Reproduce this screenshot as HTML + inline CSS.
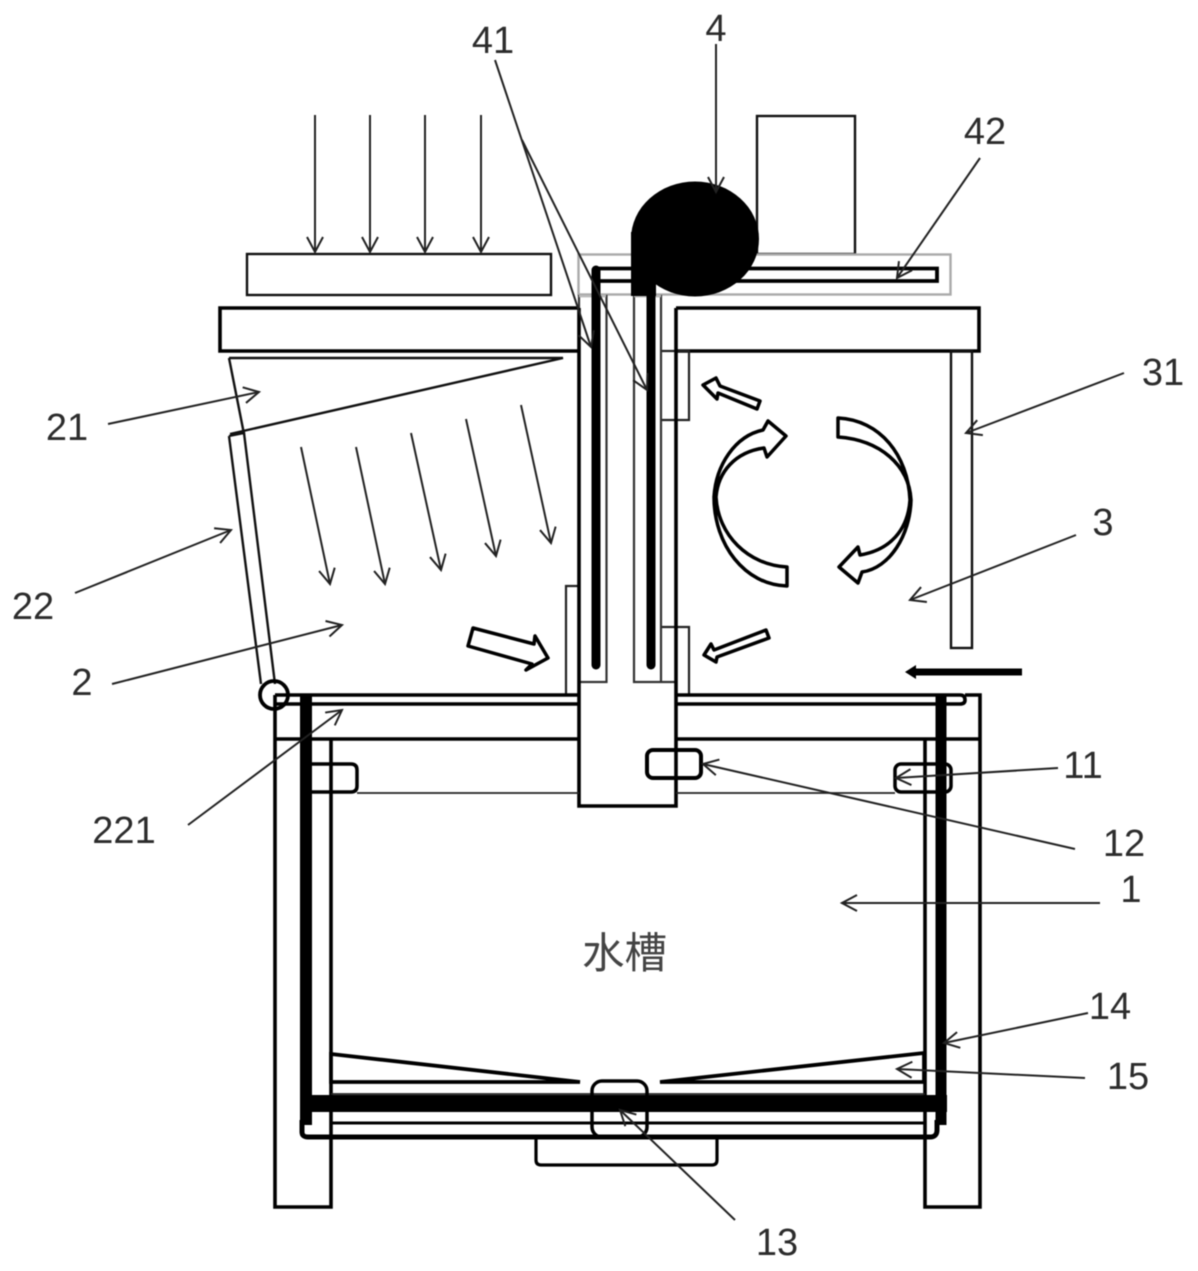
<!DOCTYPE html>
<html>
<head>
<meta charset="utf-8">
<style>
html,body{margin:0;padding:0;background:#fff}
svg{display:block;filter:blur(0.5px)}
text{font-family:"Liberation Sans","Noto Sans CJK SC",sans-serif;fill:#2c2c2c}
.n{font-size:38px;text-anchor:middle}
.k{stroke:#000;fill:none;stroke-width:3.6}
.t{stroke:#111;fill:none;stroke-width:2.4}
.g{stroke:#222;fill:none;stroke-width:2.2}
.a{stroke:#222;fill:none;stroke-width:2}
.b{stroke:#000;fill:#fff;stroke-width:3.5;stroke-linejoin:round}
</style>
</head>
<body>
<svg width="1198" height="1271" viewBox="0 0 1198 1271" xmlns="http://www.w3.org/2000/svg">
<defs>
<marker id="v" viewBox="0 0 20 20" refX="18" refY="10" markerWidth="20" markerHeight="20" markerUnits="userSpaceOnUse" orient="auto">
<path d="M3 2 L18 10 L3 18" fill="none" stroke="#222" stroke-width="2"/>
</marker>
</defs>
<rect width="1198" height="1271" fill="#fff"/>

<!-- top plate and table -->
<rect x="247" y="254" width="304" height="41" class="t"/>
<path class="k" d="M579,308 H220 V351 H579"/>
<path class="k" d="M676,308 H979 V351 H676"/>

<!-- motor box and pipe -->
<rect x="757" y="116" width="98" height="138" class="t"/>
<rect x="578.500" y="254.500" width="372" height="40" fill="none" stroke="#aaa" stroke-width="2.400"/>
<path d="M597,268.500 H937 V281 H597" fill="none" stroke="#000" stroke-width="3.800"/>

<!-- right side panel -->
<rect x="951" y="351" width="21" height="297" class="t"/>

<!-- wedge and hinged plate -->
<path class="t" d="M229,358 H563 L230,434"/>
<path class="t" d="M229,358 L244,434"/>
<path class="t" d="M229,436 L244,433 L275,684 M229,436 L261,684"/>

<!-- side baffles -->
<path class="g" d="M579,586 H566 V695"/>
<path class="g" d="M661,627 H689 V695"/>
<path class="g" d="M661,351 H689 V420 H661"/>

<!-- centre column -->
<rect x="579" y="296" width="27.500" height="386" fill="none" stroke="#333" stroke-width="2.200"/>
<path d="M634,296 V682 H676" fill="none" stroke="#333" stroke-width="2.200"/>
<path d="M634,296 H661 V682" fill="none" stroke="#333" stroke-width="2.200"/>
<path d="M579,296 H606 M634,296 H661" fill="none" stroke="#bbb" stroke-width="2.400"/>
<path class="k" d="M579,308 V806 H676 V308" stroke-width="3.800"/>

<!-- vertical black pipes -->
<path d="M596,270 V665" stroke="#000" stroke-width="9" stroke-linecap="round" fill="none"/>
<path d="M651,290 V665" stroke="#000" stroke-width="9" stroke-linecap="round" fill="none"/>

<!-- fan -->
<ellipse cx="695" cy="239" rx="64" ry="57.500" fill="#000"/>
<rect x="631" y="232" width="25" height="64" fill="#000"/>

<!-- legs -->
<path class="k" d="M275,695 V1207 H331 V739"/>
<path class="k" d="M925,739 V1207 H980 V695 H965"/>

<!-- top double rail -->
<path class="k" d="M275,695 H579 M275,704 H579" stroke-width="3.800"/>
<path d="M675,695 H960 Q965,695 965,700 Q965,704 960,704 H675" fill="none" stroke="#000" stroke-width="3.600"/>
<path class="k" d="M275,739 H579 M676,739 H980"/>

<!-- tank thin lines -->
<path d="M357,793 H579 M676,793 H895" stroke="#222" stroke-width="1.800" fill="none"/>
<path d="M306,764 H351 Q357,764 357,770 V786 Q357,792 351,792 H306" fill="none" stroke="#000" stroke-width="3.500"/>
<rect x="647" y="750" width="54" height="28" rx="6" fill="none" stroke="#000" stroke-width="4"/>
<rect x="895" y="764" width="56" height="28" rx="6" fill="none" stroke="#000" stroke-width="3.500"/>

<!-- hinge -->
<circle cx="274" cy="695" r="14" fill="none" stroke="#000" stroke-width="3.800"/>

<!-- bottom assembly -->
<path d="M331,1054 L580,1082 L331,1082 Z" fill="#fff" stroke="#000" stroke-width="3.800"/>
<path d="M924,1053 L660,1082 H924 Z" fill="#fff" stroke="#000" stroke-width="3.800"/>
<path d="M331,1094 H925" stroke="#222" stroke-width="1.800" fill="none"/>
<path d="M331,1123 H925" stroke="#000" stroke-width="3" fill="none"/>
<path d="M536,1138 V1160 Q536,1165 541,1165 H712 Q717,1165 717,1160 V1138" fill="none" stroke="#000" stroke-width="3.200"/>
<path d="M302,1120 V1132 Q302,1137 308,1137 H930 Q937,1137 937,1130 V1120" fill="none" stroke="#000" stroke-width="5"/>
<rect x="592" y="1081" width="55" height="56" rx="10" fill="none" stroke="#000" stroke-width="3.500"/>
<path d="M300,1095 H947 V1112 H300 Z" fill="#000"/>
<path d="M306,694 V1125" stroke="#000" stroke-width="12" fill="none"/>
<path d="M941,695 V1125" stroke="#000" stroke-width="11" fill="none"/>

<!-- black arrow -->
<path d="M1022,672 H916" stroke="#000" stroke-width="7" fill="none"/>
<path d="M905,672 L916,665 V679 Z" fill="#000"/>

<!-- block arrows -->
<path class="b" d="M473,628 L468,646 L532,664 L526,670 L548,658 L535,636 L534,644 Z"/>
<path class="b" d="M760,401 L757,409 L718,393 L717,399 L703,385 L716,378 L720,386 Z"/>
<path class="b" d="M766,630 L769,638 L717,657 L716,662 L704,655 L711,644 L714,650 Z"/>

<!-- circular arrows -->
<path class="b" d="M787,567 C748,565 718,535 716,497 C718,472 735,452 764,448 L767,457 L786,436 L768,421 L763,430 C735,436 716,465 714,497 C714,545 745,585 787,586 Z"/>
<path class="b" d="M838,418 C880,420 908,455 910,500 C908,530 890,550 860,555 L858,547 L839,567 L858,583 L862,572 C890,568 910,535 911,500 C909,465 880,440 838,437 Z"/>

<!-- down arrows -->
<g class="a">
<path marker-end="url(#v)" d="M315,115 V252"/>
<path marker-end="url(#v)" d="M370,115 V252"/>
<path marker-end="url(#v)" d="M425,115 V252"/>
<path marker-end="url(#v)" d="M481,115 V252"/>
<path marker-end="url(#v)" d="M301,447 L330,584"/>
<path marker-end="url(#v)" d="M356,447 L385,584"/>
<path marker-end="url(#v)" d="M411,433 L441,570"/>
<path marker-end="url(#v)" d="M466,419 L496,556"/>
<path marker-end="url(#v)" d="M521,405 L551,543"/>
</g>

<!-- leaders -->
<g class="a">
<path marker-end="url(#v)" d="M495,60 L591,347"/>
<path marker-end="url(#v)" d="M522,140 L647,390"/>
<path marker-end="url(#v)" d="M716,44 V192"/>
<path marker-end="url(#v)" d="M980,158 L897,278"/>
<path marker-end="url(#v)" d="M1124,373 L966,433"/>
<path marker-end="url(#v)" d="M108,424 L259,392"/>
<path marker-end="url(#v)" d="M75,593 L231,530"/>
<path marker-end="url(#v)" d="M112,684 L342,625"/>
<path marker-end="url(#v)" d="M1076,535 L910,600"/>
<path marker-end="url(#v)" d="M188,825 L342,710"/>
<path marker-end="url(#v)" d="M1058,768 L896,778"/>
<path marker-end="url(#v)" d="M1075,849 L703,764"/>
<path marker-end="url(#v)" d="M1100,903 L842,903"/>
<path marker-end="url(#v)" d="M1088,1013 L944,1043"/>
<path marker-end="url(#v)" d="M1085,1078 L897,1069"/>
<path marker-end="url(#v)" d="M735,1220 L620,1110"/>
</g>

<!-- labels -->
<text class="n" x="493" y="53">41</text>
<text class="n" x="716" y="41">4</text>
<text class="n" x="985" y="144">42</text>
<text class="n" x="1163" y="385">31</text>
<text class="n" x="67" y="440">21</text>
<text class="n" x="1103" y="535">3</text>
<text class="n" x="33" y="619">22</text>
<text class="n" x="82" y="695">2</text>
<text class="n" x="1083" y="778">11</text>
<text class="n" x="1124" y="856">12</text>
<text class="n" x="124" y="843">221</text>
<text class="n" x="1131" y="902">1</text>
<text class="n" x="1110" y="1019">14</text>
<text class="n" x="1128" y="1089">15</text>
<text class="n" x="777" y="1255">13</text>
<text x="582" y="968" style="font-size:42.500px;fill:#444">水槽</text>
</svg>
</body>
</html>
